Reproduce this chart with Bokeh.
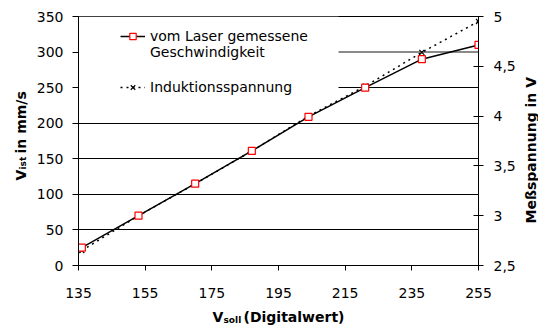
import math
from bokeh.plotting import figure
from bokeh.models import (Range1d, LinearAxis, FixedTicker, Legend, LegendItem,
                          Span, BoxAnnotation)
from bokeh.core.properties import value
from bokeh.embed import file_html
from bokeh.resources import INLINE

# ---- data ----
v_soll = [136, 153, 170, 187, 204, 221, 238, 255]
v_laser = [25, 70, 115, 161, 209, 250, 290, 310]
u_induktion = [2.65, 3.0, 3.32, 3.65, 4.0, 4.3, 4.64, 4.95]
x_ticks = [135, 155, 175, 195, 215, 235, 255]
y_ticks = [0, 50, 100, 150, 200, 250, 300, 350]
v_ticks = [2.5, 3.0, 3.5, 4.0, 4.5, 5.0]
v_tick_labels = ["2,5", "3", "3,5", "4", "4,5", "5"]
label_laser_1 = "vom Laser gemessene"
label_laser_2 = "Geschwindigkeit"
label_ind = "Induktionsspannung"

FONT = "DejaVu Sans"

p = figure(width=538, height=327, output_backend="svg", toolbar_location=None,
           x_range=Range1d(135, 255), y_range=Range1d(0, 350),
           min_border_left=78, min_border_right=60, min_border_top=16,
           min_border_bottom=62)
p.extra_y_ranges = {"v": Range1d(2.5, 5)}
p.background_fill_color = "white"
p.border_fill_color = "white"
p.outline_line_color = "black"
p.outline_line_width = 1

# axes
p.xaxis.ticker = FixedTicker(ticks=x_ticks)
p.yaxis.ticker = FixedTicker(ticks=y_ticks)
for ax in (p.xaxis[0], p.yaxis[0]):
    ax.axis_line_color = "black"
    ax.major_tick_line_color = "black"
    ax.minor_tick_line_color = None
    ax.major_tick_in = 0
    ax.major_tick_out = 6
    ax.major_label_text_font = FONT
    ax.major_label_text_font_size = "14px"
    ax.major_label_text_color = "black"
p.yaxis.major_label_standoff = 9
p.xaxis.major_label_standoff = 17
p.xaxis.major_tick_out = 5

ax_r = LinearAxis(y_range_name="v", ticker=FixedTicker(ticks=v_ticks),
                  major_label_overrides=dict(zip(v_ticks, v_tick_labels)))
ax_r.axis_line_color = "black"
ax_r.major_tick_line_color = "black"
ax_r.minor_tick_line_color = None
ax_r.major_tick_in = 5
ax_r.major_tick_out = 5
ax_r.major_label_standoff = 10
ax_r.major_label_text_font = FONT
ax_r.major_label_text_font_size = "14px"
ax_r.major_label_text_color = "black"
p.add_layout(ax_r, "right")

p.xgrid.grid_line_color = None
p.ygrid.ticker = FixedTicker(ticks=y_ticks)
p.ygrid.grid_line_color = "black"
p.ygrid.grid_line_width = 1

p.add_layout(Span(location=300, dimension="width", line_color="#8a8a8a",
                  line_width=2, level="underlay"))
p.add_layout(BoxAnnotation(left=135, right=213, bottom=240, top=350,
                           fill_color="white", fill_alpha=1, line_alpha=0,
                           level="underlay"))

# series
r_ind_line = p.line(v_soll, u_induktion, y_range_name="v", line_color="black",
                    line_width=1.5, line_dash="2 4")
r_ind_mark = p.scatter(v_soll, u_induktion, y_range_name="v", marker="x", size=7,
                       line_color="black", line_width=1.2)
r_las_line = p.line(v_soll, v_laser, line_color="black", line_width=1.5)
r_las_mark = p.scatter(v_soll, v_laser, marker="square", size=7, line_color="red",
                       fill_color="white", line_width=1.2)
r_blank = p.line([], [], line_alpha=0)

def mk_legend(items, x, y):
    lg = Legend(items=items, location=(x, y), padding=0, margin=0, spacing=0,
                glyph_width=25, glyph_height=16, label_height=16, label_standoff=5,
                label_text_font=FONT, label_text_font_size="14px",
                label_text_color="black", background_fill_alpha=0,
                border_line_alpha=0)
    p.add_layout(lg, "center")

mk_legend([LegendItem(label=label_laser_1, renderers=[r_las_line, r_las_mark]),
           LegendItem(label=label_laser_2, renderers=[r_blank])], 42, 205)
mk_legend([LegendItem(label=label_ind, renderers=[r_ind_line, r_ind_mark])], 42, 170)

# axis titles (with subscripts): text anchored at the frame's bottom-left corner,
# shifted by pixel offsets (canvas px minus frame corner at 78/265)
FX, FY = 78, 265

def lab(texts, cxs, cys, size, angle=0.0):
    r = p.text(x=[135] * len(texts), y=[0] * len(texts), text=texts,
               x_offset=[c - FX for c in cxs], y_offset=[c - FY for c in cys],
               angle=angle, text_font=value(FONT), text_font_size=size,
               text_font_style="bold", text_color="black", text_align="left",
               text_baseline="alphabetic", level="overlay")
    return r

a = math.pi / 2
lab(["V", "(Digitalwert)"], [212, 243], [316, 316], "14px")
lab(["soll"], [223], [319], "9px")
lab(["V", "in mm/s"], [20, 20], [180, 153], "14px", a)
lab(["ist"], [22.5], [169], "9px", a)
lab(["Meßspannung in V"], [530], [223], "14px", a)

open("out.html", "w").write(file_html(p, INLINE))
